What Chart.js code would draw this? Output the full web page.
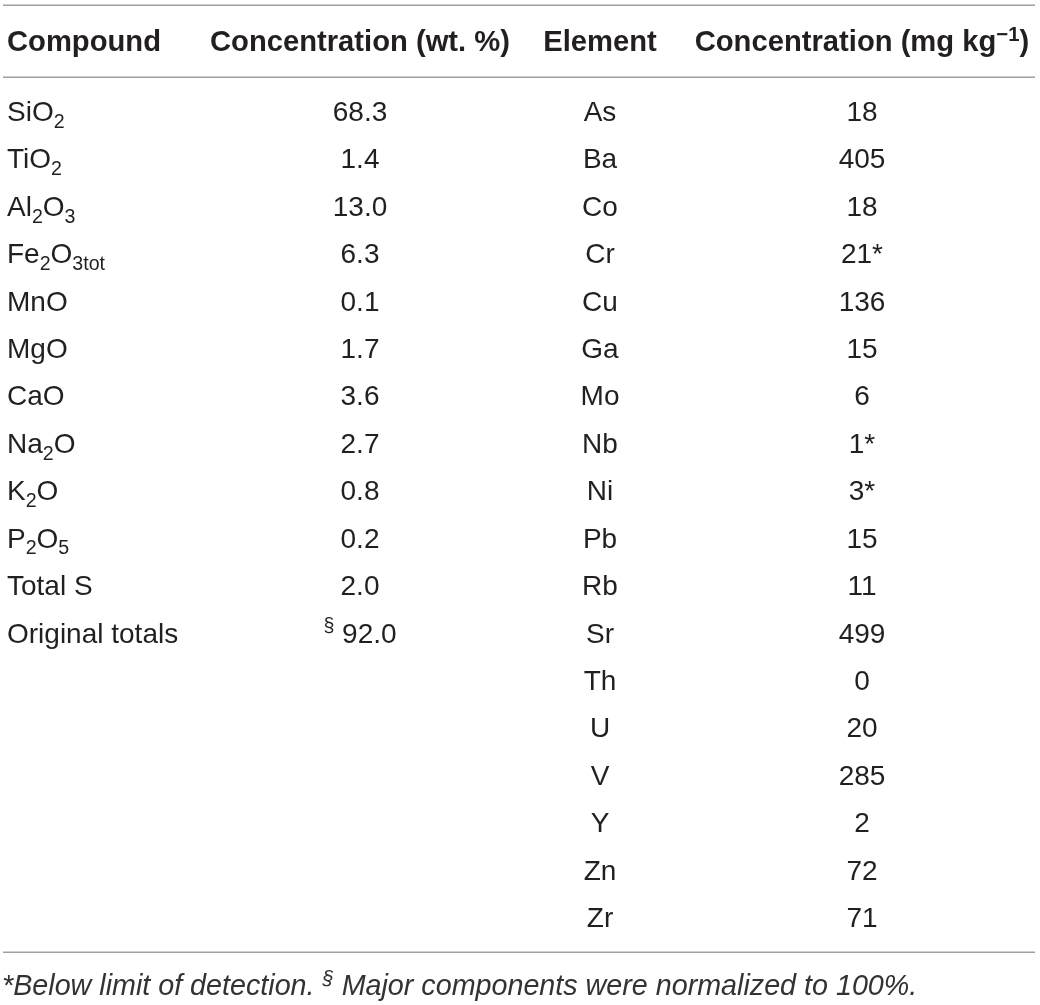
<!DOCTYPE html>
<html>
<head>
<meta charset="utf-8">
<script src="https://cdn.jsdelivr.net/npm/chart.js@4/dist/chart.umd.min.js"></script>
<style>
html,body{margin:0;padding:0;background:#fff}
canvas{display:block}
</style>
</head>
<body>
<canvas id="chart" width="1040" height="1005"></canvas>
<script>
// table contents (_{..} = subscript, ^{..} = superscript)
const headers=['Compound','Concentration (wt. %)','Element','Concentration (mg kg^{−1})'];
const compounds=['SiO_{2}','TiO_{2}','Al_{2}O_{3}','Fe_{2}O_{3tot}','MnO','MgO','CaO','Na_{2}O','K_{2}O','P_{2}O_{5}','Total S','Original totals'];
const wtPercent=[68.3,1.4,13.0,6.3,0.1,1.7,3.6,2.7,0.8,0.2,2.0,92.0];
const wtNotes=['','','','','','','','','','','','§'];
const elements=['As','Ba','Co','Cr','Cu','Ga','Mo','Nb','Ni','Pb','Rb','Sr','Th','U','V','Y','Zn','Zr'];
const mgPerKg=[18,405,18,21,136,15,6,1,3,15,11,499,0,20,285,2,72,71];
const belowLOD=['Cr','Nb','Ni'];
const footnote='*Below limit of detection. ^{§} Major components were normalized to 100%.';

// layout (x in page units, y in row units)
const colX=[7,360,600,862];
const colAlign=['left','center','center','center'];
const headerRow=-0.476;
const ruleRows=[-1.447,0.072,18.528];
const ruleX=[3,1035];
const footRow=19.435;
const FONT='"Liberation Sans", Arial, Helvetica, sans-serif';
const INK='#231f20';

function parseRich(str){
  const out=[];
  str.split(/(_\{[^}]*\}|\^\{[^}]*\})/).forEach(p=>{
    if(!p) return;
    if(p[0]==='_'&&p[1]==='{') out.push({t:p.slice(2,-1),k:'sub'});
    else if(p[0]==='^'&&p[1]==='{') out.push({t:p.slice(2,-1),k:'sup'});
    else out.push({t:p,k:''});
  });
  return out;
}
function fontFor(seg,size,style){
  const s=seg.k?size*0.7:size;
  return style+' '+s.toFixed(1)+'px '+FONT;
}
function drawRich(ctx,str,x,y,align,size,style){
  const segs=parseRich(str);
  let w=0;
  segs.forEach(s=>{ctx.font=fontFor(s,size,style);s.w=ctx.measureText(s.t).width;w+=s.w;});
  let cx=align==='center'?x-w/2:x;
  ctx.textAlign='left';
  ctx.textBaseline='alphabetic';
  segs.forEach(s=>{
    ctx.font=fontFor(s,size,style);
    const dy=s.k==='sub'?size*0.24:s.k==='sup'?-size*0.36:0;
    ctx.fillText(s.t,cx,y+dy);
    cx+=s.w;
  });
}

const cellSets=[
  {texts:headers,cols:[0,1,2,3],rows:headers.map(()=>headerRow),style:'bold',size:29.2},
  {texts:compounds,cols:compounds.map(()=>0),rows:compounds.map((_,i)=>i+1),style:'normal',size:28},
  {texts:wtPercent.map((v,i)=>(wtNotes[i]?'^{'+wtNotes[i]+'} ':'')+v.toFixed(1)),cols:wtPercent.map(()=>1),rows:wtPercent.map((_,i)=>i+1),style:'normal',size:28},
  {texts:elements,cols:elements.map(()=>2),rows:elements.map((_,i)=>i+1),style:'normal',size:28},
  {texts:mgPerKg.map((v,i)=>v+(belowLOD.includes(elements[i])?'*':'')),cols:mgPerKg.map(()=>3),rows:mgPerKg.map((_,i)=>i+1),style:'normal',size:28}
];

const tablePlugin={
  id:'tableText',
  afterDatasetsDraw(chart){
    const ctx=chart.ctx, xs=chart.scales.x, ys=chart.scales.y;
    ctx.save();
    // rules
    ctx.strokeStyle='#a0a0a0';
    ctx.lineWidth=1.5;
    ruleRows.forEach(r=>{
      const py=Math.round(ys.getPixelForValue(r))+0.25;
      ctx.beginPath();
      ctx.moveTo(xs.getPixelForValue(ruleX[0]),py);
      ctx.lineTo(xs.getPixelForValue(ruleX[1]),py);
      ctx.stroke();
    });
    ctx.fillStyle=INK;
    chart.data.datasets.forEach((ds,i)=>{
      const meta=chart.getDatasetMeta(i);
      meta.data.forEach((pt,j)=>{
        drawRich(ctx,ds.texts[j],pt.x,pt.y,colAlign[ds.cols[j]],ds.fontSize,ds.fontStyle);
      });
    });
    ctx.fillStyle='#333';
    drawRich(ctx,footnote,xs.getPixelForValue(2),ys.getPixelForValue(footRow),'left',28.7,'italic');
    ctx.restore();
  }
};

new Chart(document.getElementById('chart'),{
  type:'scatter',
  data:{datasets:cellSets.map(s=>({
    data:s.texts.map((t,j)=>({x:colX[s.cols[j]],y:s.rows[j]})),
    texts:s.texts,cols:s.cols,fontStyle:s.style,fontSize:s.size,
    pointRadius:0,pointHoverRadius:0
  }))},
  options:{
    responsive:false,animation:false,events:[],
    layout:{padding:{top:73.59,bottom:30.61,left:0,right:0}},
    plugins:{legend:{display:false},tooltip:{enabled:false}},
    scales:{
      x:{type:'linear',min:0,max:1040,display:false},
      y:{type:'linear',min:0,max:19,reverse:true,display:false}
    }
  },
  plugins:[tablePlugin]
});
</script>
</body>
</html>
